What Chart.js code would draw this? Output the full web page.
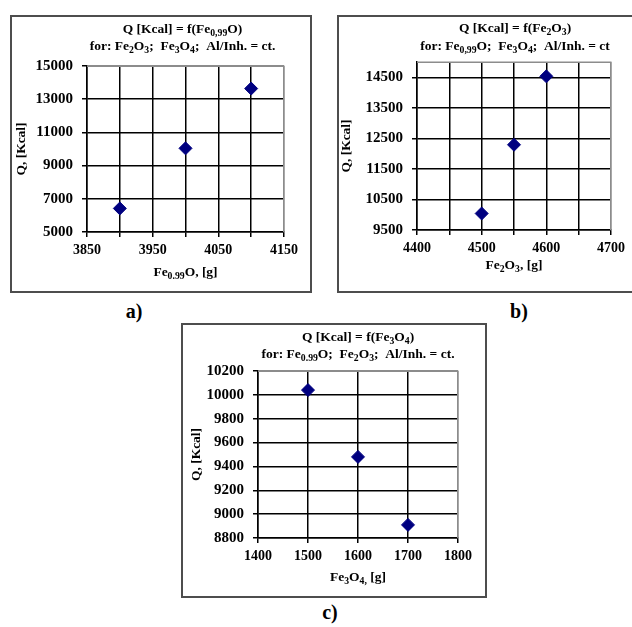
<!DOCTYPE html>
<html>
<head>
<meta charset="utf-8">
<script src="https://cdn.jsdelivr.net/npm/chart.js@4.4.1/dist/chart.umd.min.js"></script>
<style>
  body { margin: 0; width: 632px; height: 627px; overflow: hidden; background: #fff; position: relative; }
  .box { position: absolute; border: 2px solid #4d4d4d; background: #fff; }
  .box canvas { display: block; }
  .lbl { position: absolute; font: bold 20px "Liberation Serif", serif; transform: translate(-50%, -50%); }
</style>
</head>
<body>
<div class="box" style="left:10px;top:15px;"><canvas id="chA" width="298" height="274"></canvas></div>
<div class="box" style="left:337px;top:15px;"><canvas id="chB" width="298" height="274"></canvas></div>
<div class="box" style="left:181px;top:323px;"><canvas id="chC" width="302" height="271"></canvas></div>
<div class="lbl" style="left:134px;top:311px;">a)</div>
<div class="lbl" style="left:519px;top:311px;">b)</div>
<div class="lbl" style="left:330px;top:612px;">c)</div>
<script>
// a) Q = f(Fe0,99O)
let feoA = [3900, 4000, 4100];
let qA = [6420, 10040, 13640];
let xLabelsA = [3850, 3950, 4050, 4150];

// b) Q = f(Fe2O3)
let fe2o3B = [4500, 4550, 4600];
let qB = [10040, 12290, 14530];
let xLabelsB = [4400, 4500, 4600, 4700];
let yTicksB = [9500, 10500, 11500, 12500, 13500, 14500];

// c) Q = f(Fe3O4)
let fe3o4C = [1500, 1600, 1700];
let qC = [10040, 9480, 8910];

const FONT = '"Liberation Serif", serif';
const NAVY = '#000080';

// text pieces: [text, sub?]
let titleA = [
  [['Q [Kcal] = f(Fe'], ['0,99', 1], ['O)']],
  [['for: Fe'], ['2', 1], ['O'], ['3', 1], [';  Fe'], ['3', 1], ['O'], ['4', 1], [';  Al/Inh. = ct.']]
];
let titleB = [
  [['Q [Kcal] = f(Fe'], ['2', 1], ['O'], ['3', 1], [')']],
  [['for: Fe'], ['0,99', 1], ['O;  Fe'], ['3', 1], ['O'], ['4', 1], [';  Al/Inh. = ct']]
];
let titleC = [
  [['Q [Kcal] = f(Fe'], ['3', 1], ['O'], ['4', 1], [')']],
  [['for: Fe'], ['0.99', 1], ['O;  Fe'], ['2', 1], ['O'], ['3', 1], [';  Al/Inh. = ct.']]
];
let xTitleA = [['Fe'], ['0.99', 1], ['O, [g]']];
let xTitleB = [['Fe'], ['2', 1], ['O'], ['3', 1], [', [g]']];
let xTitleC = [['Fe'], ['3', 1], ['O'], ['4,', 1], [' [g]']];
let yTitle = 'Q, [Kcal]';

function drawRich(ctx, segs, cx, cy, size) {
  let total = 0;
  segs.forEach(s => {
    ctx.font = 'bold ' + (s[1] ? size * 0.72 : size) + 'px ' + FONT;
    total += ctx.measureText(s[0]).width;
  });
  let x = cx - total / 2;
  let base = cy + size * 0.33;
  segs.forEach(s => {
    ctx.font = 'bold ' + (s[1] ? size * 0.72 : size) + 'px ' + FONT;
    ctx.fillText(s[0], x, s[1] ? base + size * 0.2 : base);
    x += ctx.measureText(s[0]).width;
  });
}

const textPlugin = {
  id: 'texts',
  afterDraw(chart, args, o) {
    const ctx = chart.ctx, a = chart.chartArea;
    ctx.save();
    // plot area border (grey, top and right)
    ctx.strokeStyle = '#8c8c8c';
    ctx.lineWidth = 1.5;
    ctx.beginPath();
    ctx.moveTo(a.left, Math.round(a.top) + 0.25);
    ctx.lineTo(Math.round(a.right) - 0.25, Math.round(a.top) + 0.25);
    ctx.lineTo(Math.round(a.right) - 0.25, a.bottom);
    ctx.stroke();
    ctx.fillStyle = '#000';
    ctx.textAlign = 'left';
    ctx.textBaseline = 'alphabetic';
    let mid = (a.left + a.right) / 2;
    drawRich(ctx, o.title[0], mid + o.dx, o.t1, 13.5);
    drawRich(ctx, o.title[1], mid + o.dx, o.t2, 13.5);
    drawRich(ctx, o.xTitle, mid, o.xt, 13.5);
    ctx.translate(o.yt, (a.top + a.bottom) / 2);
    ctx.rotate(-Math.PI / 2);
    ctx.textAlign = 'center';
    ctx.textBaseline = 'middle';
    ctx.font = 'bold 13.5px ' + FONT;
    ctx.fillText(yTitle, 0, 0);
    ctx.restore();
  }
};

function grafico(id, xs, ys, sx, sy, pad, texts) {
  const ctx = document.getElementById(id).getContext('2d');
  return new Chart(ctx, {
    type: 'scatter',
    data: {
      datasets: [{
        data: xs.map((v, i) => ({ x: v, y: ys[i] })),
        pointStyle: 'rectRot',
        pointRadius: 6.5,
        pointHoverRadius: 6.5,
        backgroundColor: NAVY,
        borderColor: NAVY,
        borderWidth: 1
      }]
    },
    options: {
      responsive: false,
      animation: false,
      layout: { padding: pad },
      plugins: { legend: { display: false }, tooltip: { enabled: false }, title: { display: false }, texts: texts },
      scales: {
        x: Object.assign({
          type: 'linear',
          afterFit: s => { s.height = 40; },
          grid: {
            color: c => (c.tick && c.tick.value === sx.max) ? '#8c8c8c' : '#000',
            tickColor: '#000', tickLength: 5, lineWidth: 1.5
          },
          border: { color: '#000', width: 1.5 },
          ticks: {
            stepSize: sx.step, padding: 5, color: '#000', maxRotation: 0, autoSkip: false,
            font: { family: FONT, size: 14, weight: 'bold' },
            callback: v => (!sx.labels || sx.labels.includes(v)) ? v : ''
          }
        }, { min: sx.min, max: sx.max }),
        y: Object.assign({
          type: 'linear',
          afterFit: s => { s.width = 62; },
          afterBuildTicks: s => { if (sy.ticks) s.ticks = sy.ticks.map(v => ({ value: v })); },
          grid: {
            color: c => (c.tick && c.tick.value === sy.max) ? '#8c8c8c' : '#000',
            tickColor: '#000', tickLength: 5, lineWidth: 1.5
          },
          border: { color: '#000', width: 1.5 },
          ticks: {
            stepSize: sy.step, padding: 9, color: '#000', autoSkip: false,
            font: { family: FONT, size: 15, weight: 'bold' },
            callback: v => v
          }
        }, { min: sy.min, max: sy.max })
      }
    },
    plugins: [textPlugin]
  });
}

grafico('chA', feoA, qA,
  { min: 3850, max: 4150, step: 50, labels: xLabelsA },
  { min: 5000, max: 15000, step: 2000 },
  { left: 13, right: 26, top: 49, bottom: 19 },
  { title: titleA, dx: -3, t1: 12, t2: 29, xTitle: xTitleA, xt: 255, yt: 10 });

grafico('chB', fe2o3B, qB,
  { min: 4400, max: 4700, step: 50, labels: xLabelsB },
  { min: 9500, max: 15000, ticks: yTicksB },
  { left: 16, right: 26, top: 45, bottom: 21 },
  { title: titleB, dx: 1, t1: 11, t2: 29, xTitle: xTitleB, xt: 248, yt: 8 });

grafico('chC', fe3o4C, qC,
  { min: 1400, max: 1800, step: 100 },
  { min: 8800, max: 10200, step: 200 },
  { left: 13, right: 27, top: 46, bottom: 18 },
  { title: titleC, dx: 0, t1: 12, t2: 29, xTitle: xTitleC, xt: 252, yt: 14 });
</script>
</body>
</html>
